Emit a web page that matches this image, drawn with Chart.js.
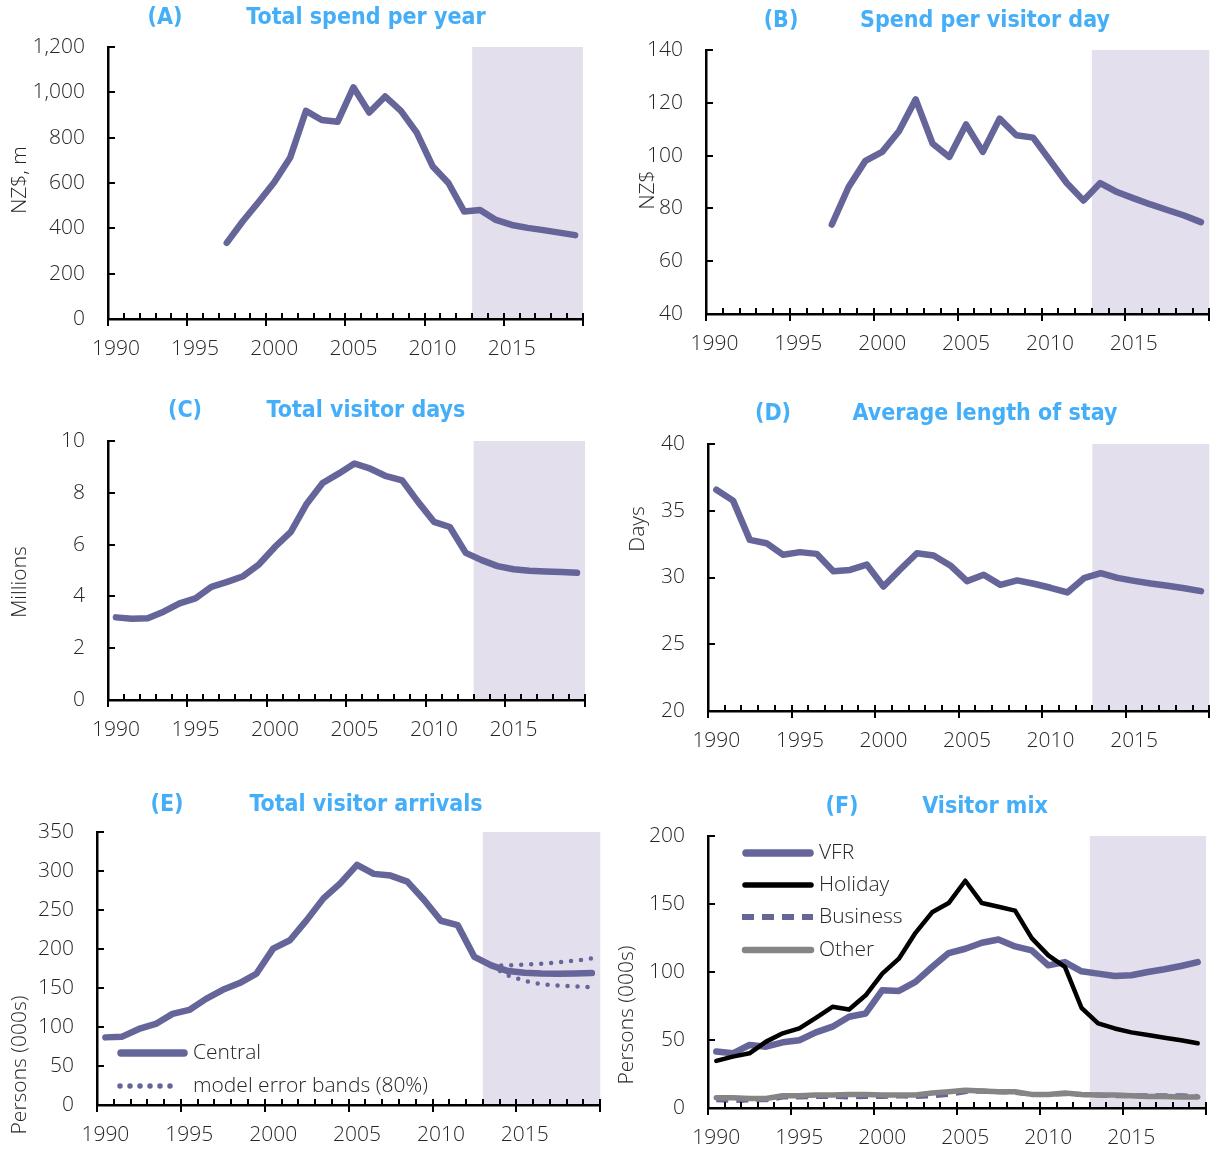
<!DOCTYPE html>
<html>
<head>
<meta charset="utf-8">
<script src="https://cdn.jsdelivr.net/npm/chart.js@4.4.1/dist/chart.umd.min.js"></script>
<style>
  body { margin: 0; background: #fff; }
  #wrap { position: relative; width: 1218px; height: 1151px; overflow: hidden; }
  #wrap canvas { position: absolute; }
</style>
</head>
<body>
<div id="wrap">
  <canvas id="spend" width="609" height="385" style="left:0;top:0"></canvas>
  <canvas id="perday" width="609" height="385" style="left:609px;top:0"></canvas>
  <canvas id="days" width="609" height="385" style="left:0;top:385px"></canvas>
  <canvas id="stay" width="609" height="385" style="left:609px;top:385px"></canvas>
  <canvas id="arrivals" width="609" height="381" style="left:0;top:770px"></canvas>
  <canvas id="mix" width="609" height="381" style="left:609px;top:770px"></canvas>
</div>
<script>
// categories
const years = ['1990', '1991', '1992', '1993', '1994', '1995', '1996', '1997', '1998', '1999',
  '2000', '2001', '2002', '2003', '2004', '2005', '2006', '2007', '2008', '2009',
  '2010', '2011', '2012', '2013', '2014', '2015', '2016', '2017', '2018', '2019'];
const forecastStart = '2013';

// (A) NZ$ m
const spendTotal = [null, null, null, null, null, null, null, 336, 430, 515,
  603, 711, 918, 878, 870, 1022, 911, 982, 918, 822,
  674, 600, 474, 481, 437, 415, 402, 392, 381, 370];
// (B) NZ$
const spendPerDay = [null, null, null, null, null, null, null, 73.9, 88.1, 98,
  101.4, 109.2, 121.3, 104.6, 99.5, 111.8, 101.4, 114, 107.7, 106.8,
  98.2, 89.6, 83, 89.6, 86.2, 83.8, 81.5, 79.4, 77.3, 74.8];
// (C) millions
const visitorDays = [3.19, 3.14, 3.16, 3.41, 3.73, 3.92, 4.37, 4.56, 4.78, 5.24,
  5.91, 6.49, 7.58, 8.38, 8.74, 9.13, 8.93, 8.64, 8.48, 7.65,
  6.88, 6.68, 5.68, 5.40, 5.17, 5.05, 4.99, 4.96, 4.94, 4.91];
// (D) days
const stayLength = [36.58, 35.76, 32.82, 32.57, 31.70, 31.90, 31.77, 30.47, 30.57, 30.97,
  29.33, 30.60, 31.82, 31.65, 30.90, 29.73, 30.20, 29.45, 29.78, 29.53,
  29.23, 28.88, 29.95, 30.32, 29.97, 29.75, 29.55, 29.38, 29.20, 28.98];
// (E) persons 000s
const arrivals = [86.7, 87.6, 97.5, 103.9, 116.8, 121.9, 136.1, 147.7, 156.3, 168.3,
  200.5, 211.2, 237, 264.9, 284.2, 307.9, 296.3, 294.1, 286.4, 262.8,
  236.2, 230.6, 189.8, 179, 171.7, 169.6, 168.5, 168.2, 168.5, 169.2];
const bandUpper = [null, null, null, null, null, null, null, null, null, null,
  null, null, null, null, null, null, null, null, null, null,
  null, null, null, 179, 179, 180, 181, 183, 185, 188];
const bandLower = [null, null, null, null, null, null, null, null, null, null,
  null, null, null, null, null, null, null, null, null, null,
  null, null, null, 178, 166, 159, 155, 153, 152, 151];
// (F) persons 000s
const vfr = [41.5, 40.2, 46.3, 45.1, 48.3, 49.8, 55.6, 59.8, 67.1, 69.5,
  86.6, 86.1, 92.7, 103.7, 113.9, 117.1, 121.5, 123.9, 118.8, 115.9,
  104.9, 107.3, 100.5, 98.8, 97.1, 97.6, 100, 102, 104.4, 107.3];
const holiday = [34.6, 37.8, 40.2, 48.8, 54.9, 58.5, 66.3, 74.4, 72.4, 82.9,
  98.8, 109.8, 128.8, 143.9, 150.7, 167.1, 150.7, 148, 145.1, 124.9,
  112.2, 103.7, 73.7, 62.2, 58.5, 55.6, 53.7, 51.7, 49.8, 47.6];
const business = [6, 5.5, 6, 6, 8, 8, 8.5, 8.5, 8, 8.5,
  8.5, 9, 8.5, 9, 10, 12, 12.5, 12, 11.5, 10,
  10, 10.5, 10, 9.5, 9, 9, 9, 9, 9, 8.5];
const other = [7.5, 7.5, 7, 7, 9, 9, 9.5, 9.5, 10, 10,
  9.5, 9.5, 9.5, 11, 12, 13, 12.5, 12, 12, 10,
  10, 11, 10, 9.5, 9.5, 9, 8.5, 8.5, 8, 8];

const PURPLE = '#65659a';
const SHADE = '#e4dfec';
const TITLE_BLUE = '#45aef8';
const TEXT = '#262626';
const LIGHT_FONT = "'Open Sans', 'DejaVu Sans', sans-serif";

Chart.defaults.font.family = LIGHT_FONT;
Chart.defaults.color = TEXT;

// forecast shading, inside tick marks, titles and the hand placed legends
const decor = {
  id: 'decor',
  beforeDraw(chart) {
    const { ctx, chartArea: a, scales: { x } } = chart;
    const step = x.getPixelForValue(1) - x.getPixelForValue(0);
    const x0 = x.getPixelForValue(years.indexOf(forecastStart)) - step / 2;
    ctx.save();
    ctx.fillStyle = SHADE;
    ctx.fillRect(x0, a.top, a.right - x0, a.bottom - a.top);
    ctx.restore();
  },
  afterDraw(chart, args, o) {
    const { ctx, chartArea: a, scales: { x, y } } = chart;
    const step = x.getPixelForValue(1) - x.getPixelForValue(0);
    ctx.save();
    ctx.strokeStyle = '#000';
    ctx.lineWidth = 2;
    ctx.beginPath();
    for (let i = 0; i <= years.length; i++) {
      const px = Math.round(x.getPixelForValue(0) - step / 2 + i * step);
      ctx.moveTo(px, a.bottom - 6);
      ctx.lineTo(px, i % 5 === 0 ? a.bottom + 7 : a.bottom);
    }
    y.ticks.forEach(t => {
      const py = Math.round(y.getPixelForValue(t.value));
      ctx.moveTo(a.left, py);
      ctx.lineTo(a.left + 7, py);
    });
    ctx.stroke();

    // title
    ctx.fillStyle = TITLE_BLUE;
    ctx.font = "bold 23px 'DejaVu Sans Condensed', 'DejaVu Sans', sans-serif";
    ctx.textAlign = 'center';
    ctx.textBaseline = 'middle';
    ctx.fillText(o.tag, o.tagX, o.titleY);
    ctx.fillText(o.title, o.titleX, o.titleY);

    // y axis title
    ctx.fillStyle = TEXT;
    ctx.font = '300 21px ' + LIGHT_FONT;
    ctx.save();
    ctx.translate(o.yTitleX, o.yTitleY);
    ctx.rotate(-Math.PI / 2);
    ctx.fillText(o.yTitle, 0, 0);
    ctx.restore();

    // legend
    ctx.textAlign = 'left';
    (o.legend || []).forEach(it => {
      const ds = chart.data.datasets[it.ds];
      ctx.save();
      ctx.strokeStyle = ds.borderColor;
      ctx.lineWidth = ds.borderWidth + 1;
      ctx.lineCap = ds.borderCapStyle || 'round';
      ctx.setLineDash(ds.borderDash || []);
      ctx.beginPath();
      ctx.moveTo(it.x1, it.y);
      ctx.lineTo(it.x2, it.y);
      ctx.stroke();
      ctx.restore();
      ctx.fillText(ds.label, o.legendTextX, it.y);
    });
    ctx.restore();
  }
};

function lineSet(label, data, extra) {
  return Object.assign({
    label, data,
    borderColor: PURPLE,
    borderWidth: 6.5,
    borderCapStyle: 'round',
    borderJoinStyle: 'round',
    pointRadius: 0,
    tension: 0,
    fill: false
  }, extra);
}

// area: where the plot box should sit inside its canvas
function panel(id, datasets, yRange, area, decorOpts) {
  const canvas = document.getElementById(id);
  return new Chart(canvas, {
    type: 'line',
    data: { labels: years, datasets },
    plugins: [decor],
    options: {
      responsive: false,
      animation: false,
      events: [],
      layout: { padding: { left: 0, top: area.top, right: canvas.width - area.right, bottom: 0 } },
      plugins: { legend: { display: false }, tooltip: { enabled: false }, decor: decorOpts },
      scales: {
        x: {
          type: 'category',
          offset: true,
          grid: { display: false, drawTicks: false },
          border: { display: true, color: '#000', width: 2.5 },
          ticks: {
            autoSkip: false, maxRotation: 0, padding: 17,
            font: { size: 21, weight: 300 },
            callback: (v, i) => (i % 5 === 0 ? years[i] : '')
          },
          afterFit: s => { s.height = canvas.height - area.bottom; }
        },
        y: {
          min: yRange[0], max: yRange[1],
          grid: { display: false, drawTicks: false },
          border: { display: true, color: '#000', width: 2.5 },
          ticks: { stepSize: yRange[2], padding: 23, font: { size: 21, weight: 300 } },
          afterFit: s => { s.width = area.left; }
        }
      }
    }
  });
}

panel('spend', [lineSet('Total spend', spendTotal)], [0, 1200, 200],
  { left: 108, top: 47, right: 583, bottom: 319 },
  { tag: '(A)', tagX: 165, title: 'Total spend per year', titleX: 366, titleY: 18,
    yTitle: 'NZ$, m', yTitleX: 20, yTitleY: 180 });

panel('perday', [lineSet('Spend per visitor day', spendPerDay)], [40, 140, 20],
  { left: 97, top: 50, right: 604, bottom: 314 },
  { tag: '(B)', tagX: 172, title: 'Spend per visitor day', titleX: 376, titleY: 21,
    yTitle: 'NZ$', yTitleX: 39, yTitleY: 190 });

panel('days', [lineSet('Total visitor days', visitorDays)], [0, 10, 2],
  { left: 108, top: 56, right: 585, bottom: 315 },
  { tag: '(C)', tagX: 185, title: 'Total visitor days', titleX: 366, titleY: 26,
    yTitle: 'Millions', yTitleX: 20, yTitleY: 197 });

panel('stay', [lineSet('Average length of stay', stayLength)], [20, 40, 5],
  { left: 99, top: 59, right: 607, bottom: 326 },
  { tag: '(D)', tagX: 164, title: 'Average length of stay', titleX: 376, titleY: 29,
    yTitle: 'Days', yTitleX: 29, yTitleY: 144 });

panel('arrivals', [
    lineSet('Central', arrivals, { order: 1 }),
    lineSet('model error bands (80%)', bandUpper, { borderWidth: 4.5, borderDash: [0, 10], order: 2 }),
    lineSet('model error bands (80%)', bandLower, { borderWidth: 4.5, borderDash: [0, 10], order: 2 })
  ], [0, 350, 50],
  { left: 97, top: 62, right: 601, bottom: 335 },
  { tag: '(E)', tagX: 167, title: 'Total visitor arrivals', titleX: 366, titleY: 35,
    yTitle: 'Persons (000s)', yTitleX: 20, yTitleY: 295,
    legendTextX: 193,
    legend: [{ ds: 0, x1: 121, x2: 184, y: 283 }, { ds: 1, x1: 120, x2: 180, y: 316 }] });

panel('mix', [
    lineSet('VFR', vfr, { order: 4 }),
    lineSet('Holiday', holiday, { borderColor: '#000', borderWidth: 4.5, order: 3 }),
    lineSet('Business', business, { borderWidth: 5, borderDash: [12, 8], borderCapStyle: 'butt', order: 2 }),
    lineSet('Other', other, { borderColor: '#858585', borderWidth: 5.5, order: 1 })
  ], [0, 200, 50],
  { left: 99, top: 66, right: 597, bottom: 338 },
  { tag: '(F)', tagX: 233, title: 'Visitor mix', titleX: 376, titleY: 37,
    yTitle: 'Persons (000s)', yTitleX: 18, yTitleY: 245,
    legendTextX: 210,
    legend: [{ ds: 0, x1: 137, x2: 201, y: 83 }, { ds: 1, x1: 136, x2: 202, y: 115 },
             { ds: 2, x1: 133, x2: 204, y: 147 }, { ds: 3, x1: 136, x2: 202, y: 180 }] });
</script>
</body>
</html>
